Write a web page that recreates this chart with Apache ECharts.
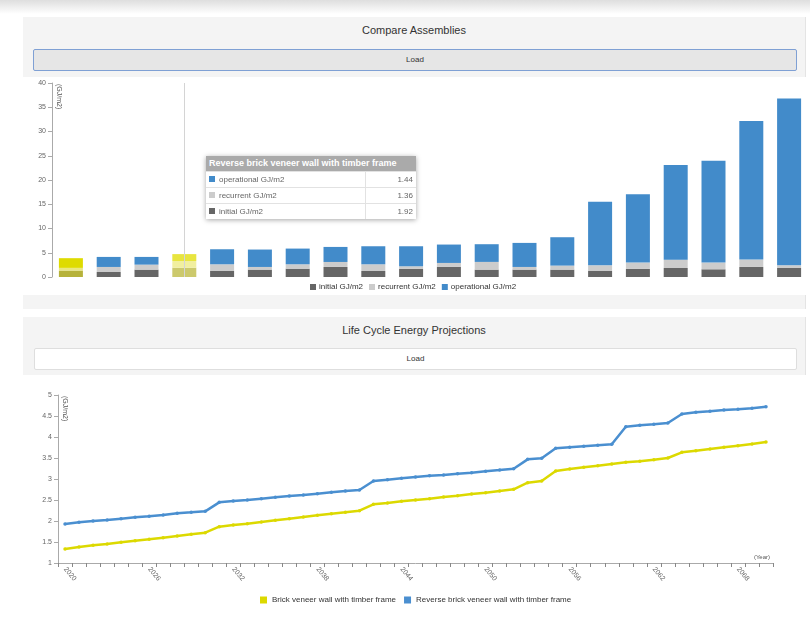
<!DOCTYPE html>
<html><head><meta charset="utf-8">
<script src="https://cdn.jsdelivr.net/npm/echarts@6/dist/echarts.min.js"></script>
<style>
html,body{margin:0;padding:0;width:810px;height:622px;overflow:hidden;background:#fff;font-family:"Liberation Sans",Arial,sans-serif;}
.shade{position:absolute;left:0;top:0;width:810px;height:14px;background:linear-gradient(#dedede,#fff);}
.panel{position:absolute;left:23px;width:782px;background:#f4f4f4;border-right:1px solid #e4e4e4;}
.ptitle{position:absolute;left:0;width:100%;text-align:center;font-size:11px;color:#333;}
.btn{position:absolute;left:10px;width:764px;height:22px;line-height:20px;text-align:center;font-size:8px;color:#333;box-sizing:border-box;border-radius:2px;}
.chart{position:absolute;}
#tip{position:absolute;left:206px;top:156px;width:210px;background:#fff;box-shadow:0 1px 5px rgba(0,0,0,.35);font-size:8px;color:#666;}
#tip .hd{background:#aaaaaa;color:#fff;font-weight:bold;height:15px;line-height:15px;padding-left:3px;font-size:9px;white-space:nowrap;overflow:hidden;}
#tip table{border-collapse:collapse;width:100%;}
#tip td{border-top:1px solid #e2e2e2;height:15px;padding:0 3px;}
#tip td.v{text-align:right;border-left:1px solid #e2e2e2;width:44px;}
#tip i{display:inline-block;width:6px;height:6px;margin-right:4px;vertical-align:-0px;}
</style></head>
<body>
<div class="shade"></div>
<div class="panel" style="top:17px;height:292px;">
  <div class="ptitle" style="top:7px;">Compare Assemblies</div>
  <div class="btn" style="top:32px;background:#e6e6e6;border:1px solid #7fa0d4;">Load</div>
</div>
<div class="chart" id="c1" style="left:23px;top:77px;width:787px;height:218px;background:#fff;"></div>
<div class="panel" style="top:317px;height:305px;">
  <div class="ptitle" style="top:7px;">Life Cycle Energy Projections</div>
  <div class="btn" style="top:31px;left:11px;width:763px;background:#fff;border:1px solid #dedede;">Load</div>
</div>
<div class="chart" id="c2" style="left:23px;top:375px;width:787px;height:247px;background:#fff;"></div>
<div id="tip"></div>
<script>
// ---- Compare Assemblies data ----
const assemblies = ["Brick veneer wall with timber frame","Assembly 2","Assembly 3","Reverse brick veneer wall with timber frame",
  "Assembly 5","Assembly 6","Assembly 7","Assembly 8","Assembly 9","Assembly 10","Assembly 11","Assembly 12",
  "Assembly 13","Assembly 14","Assembly 15","Assembly 16","Assembly 17","Assembly 18","Assembly 19","Assembly 20"];
const initialGJ     = [1.33, 1.03, 1.52, 1.92, 1.24, 1.52, 1.72, 2.07, 1.24, 1.66, 2.07, 1.52, 1.52, 1.52, 1.24, 1.66, 1.86, 1.59, 2.07, 1.86];
const recurrentGJ   = [0.55, 1.04, 1.03, 1.36, 1.38, 0.55, 0.90, 1.03, 1.38, 0.55, 0.83, 1.59, 0.55, 0.83, 1.17, 1.31, 1.72, 1.38, 1.52, 0.55];
const operationalGJ = [2.00, 2.07, 1.59, 1.44, 3.10, 3.59, 3.24, 3.10, 3.72, 4.13, 3.79, 3.65, 4.96, 5.85, 13.1, 14.1, 19.5, 21.0, 28.6, 34.4];
const barSeriesNames = ["initial GJ/m2","recurrent GJ/m2","operational GJ/m2"];
const selectedIdx = 0, hoverIdx = 3;

// ---- Life Cycle Energy Projections data ----
const years = ["2020","2021","2022","2023","2024","2025","2026","2027","2028","2029","2030","2031","2032","2033","2034","2035","2036","2037","2038","2039","2040","2041","2042","2043","2044","2045","2046","2047","2048","2049","2050","2051","2052","2053","2054","2055","2056","2057","2058","2059","2060","2061","2062","2063","2064","2065","2066","2067","2068","2069","2070"];
const brickVeneer = [1.333,1.381,1.421,1.452,1.492,1.532,1.563,1.603,1.643,1.683,1.722,1.865,1.905,1.937,1.976,2.016,2.056,2.095,2.135,2.175,2.206,2.246,2.397,2.429,2.468,2.500,2.532,2.571,2.603,2.643,2.675,2.714,2.754,2.913,2.952,3.190,3.238,3.278,3.317,3.357,3.397,3.421,3.460,3.500,3.635,3.675,3.714,3.754,3.794,3.833,3.881];
const reverseBrick = [1.930,1.969,2.000,2.024,2.056,2.087,2.111,2.143,2.183,2.206,2.230,2.444,2.476,2.500,2.532,2.563,2.595,2.619,2.651,2.683,2.714,2.738,2.952,2.984,3.016,3.048,3.075,3.095,3.127,3.151,3.183,3.214,3.246,3.468,3.492,3.730,3.754,3.778,3.802,3.826,4.246,4.278,4.302,4.333,4.548,4.587,4.611,4.643,4.659,4.683,4.722];
const lineSeriesNames = ["Brick veneer wall with timber frame","Reverse brick veneer wall with timber frame"];

const FONT = '"Liberation Sans", Arial, sans-serif';
const colInitial = '#666666', colRecurrent = '#cccccc', colOperational = '#428bca';
const selCols = ['#b6b23a', '#e9e77f', '#dedb00'];
const hovCols = ['#ccc96c', '#f1ef9f', '#e8e53f'];
const baseCols = [colInitial, colRecurrent, colOperational];
const arrs = [initialGJ, recurrentGJ, operationalGJ];

function barData(k) {
  return arrs[k].map((v, i) => {
    if (i === selectedIdx) return {value: v, itemStyle: {color: selCols[k]}};
    if (i === hoverIdx) return {value: v, itemStyle: {color: hovCols[k]}};
    return v;
  });
}

const c1 = echarts.init(document.getElementById('c1'), null, {renderer: 'canvas'});
c1.setOption({
  animation: false,
  textStyle: {fontFamily: FONT},
  grid: {left: 29, top: 6, right: 2, bottom: 18, containLabel: false},
  legend: {
    left: 282, top: 201, itemWidth: 6, itemHeight: 6, itemGap: 6,
    icon: 'rect', textStyle: {fontSize: 8, color: '#333', fontFamily: FONT, padding: [0,0,0,-2]},
    data: barSeriesNames
  },
  xAxis: {
    type: 'category', data: assemblies,
    axisLine: {show: false}, axisTick: {show: false}, axisLabel: {show: false}
  },
  yAxis: {
    type: 'value', min: 0, max: 40, interval: 5,
    name: '(GJ/m2)', nameLocation: 'end', nameRotate: -90, nameGap: -1,
    nameTextStyle: {fontSize: 7, color: '#555', align: 'left', verticalAlign: 'bottom', padding: [0,0,3,0]},
    axisLine: {show: true, lineStyle: {color: '#aaa'}},
    axisTick: {show: true, length: 4, lineStyle: {color: '#aaa'}},
    axisLabel: {fontSize: 7, color: '#666', margin: 6},
    splitLine: {show: false}
  },
  series: barSeriesNames.map((n, k) => ({
    name: n, type: 'bar', stack: 'total', barWidth: 24,
    itemStyle: {color: baseCols[k]},
    data: barData(k),
    markLine: k === 2 ? {
      silent: true, symbol: 'none', label: {show: false},
      lineStyle: {color: '#d4d4d4', width: 1, type: 'solid'},
      data: [{xAxis: hoverIdx}]
    } : undefined
  }))
});

// static tooltip for the hovered assembly
(function(){
  const tip = document.getElementById('tip');
  let html = '<div class="hd">' + assemblies[hoverIdx] + '</div><table>';
  [2,1,0].forEach(k => {
    html += '<tr><td><i style="background:' + baseCols[k] + '"></i>' + barSeriesNames[k] +
            '</td><td class="v">' + arrs[k][hoverIdx].toFixed(2) + '</td></tr>';
  });
  tip.innerHTML = html + '</table>';
})();

const c2 = echarts.init(document.getElementById('c2'), null, {renderer: 'canvas'});
c2.setOption({
  animation: false,
  textStyle: {fontFamily: FONT},
  grid: {left: 35, top: 20, right: 37, bottom: 59, containLabel: false},
  legend: {
    left: 232, top: 216, itemWidth: 7, itemHeight: 7, itemGap: 8,
    icon: 'rect', textStyle: {fontSize: 8, color: '#333', fontFamily: FONT},
    data: lineSeriesNames.map(n => ({name: n, icon: 'rect'}))
  },
  xAxis: {
    type: 'category', data: years, boundaryGap: true,
    name: '(Year)', nameLocation: 'end', nameGap: -3,
    nameTextStyle: {fontSize: 6, color: '#555', align: 'right', verticalAlign: 'bottom', padding: [0,0,3,0]},
    axisLine: {lineStyle: {color: '#aaa'}},
    axisTick: {show: true, length: 4, alignWithLabel: false, interval: 0, lineStyle: {color: '#888'}},
    axisLabel: {fontSize: 7, color: '#666', rotate: -50, interval: 5, margin: 5}
  },
  yAxis: {
    type: 'value', min: 1, max: 5, interval: 0.5,
    name: '(GJ/m2)', nameLocation: 'end', nameRotate: -90, nameGap: -1,
    nameTextStyle: {fontSize: 7, color: '#555', align: 'left', verticalAlign: 'bottom', padding: [0,0,3,0]},
    axisLine: {show: true, lineStyle: {color: '#aaa'}},
    axisTick: {show: true, length: 4, lineStyle: {color: '#aaa'}},
    axisLabel: {fontSize: 7, color: '#666', margin: 6},
    splitLine: {show: false}
  },
  series: [
    {name: lineSeriesNames[0], type: 'line', data: brickVeneer, color: '#dcd900',
     lineStyle: {width: 2.5}, symbol: 'circle', symbolSize: 3.5, showSymbol: true},
    {name: lineSeriesNames[1], type: 'line', data: reverseBrick, color: '#4a8fd0',
     lineStyle: {width: 2.5}, symbol: 'circle', symbolSize: 3.5, showSymbol: true}
  ]
});
</script>
</body></html>
